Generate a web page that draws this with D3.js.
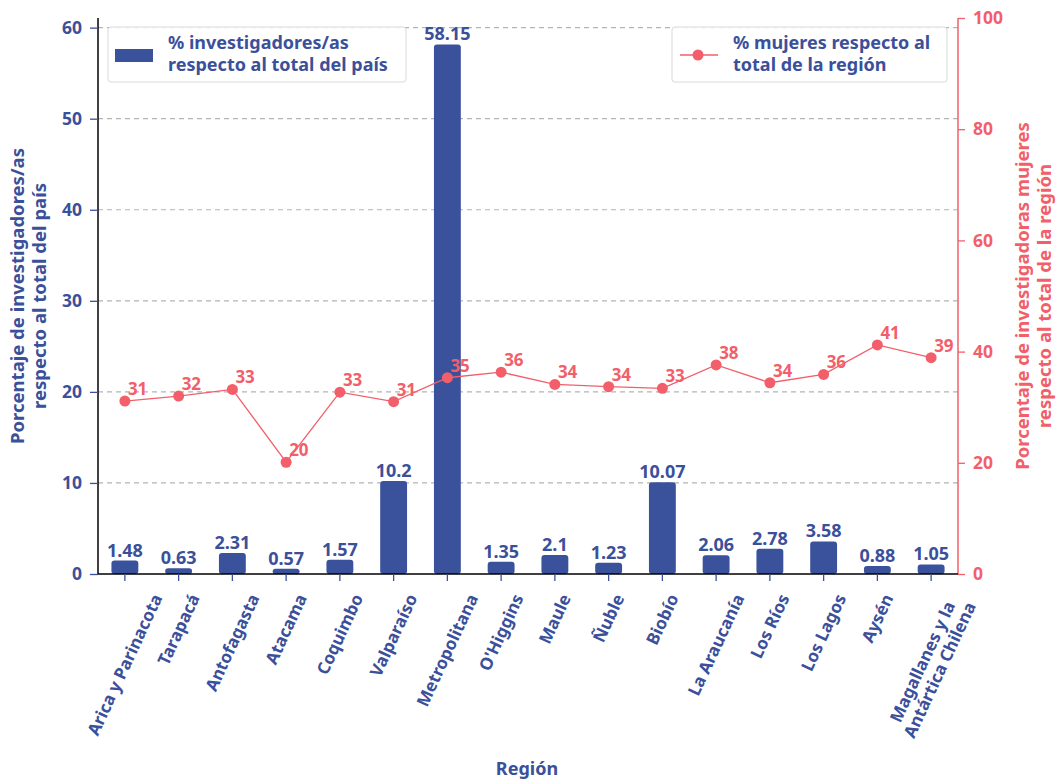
<!DOCTYPE html>
<html>
<head>
<meta charset="utf-8">
<script src="https://cdn.jsdelivr.net/npm/d3@7"></script>
<style>
  html, body { margin: 0; padding: 0; background: #fff; }
  svg text { font-family: "Noto Sans", "Open Sans", sans-serif; font-weight: bold; }
</style>
</head>
<body>
<svg id="chart" width="1057" height="782"></svg>
<script>
// Regions and their series
const regiones = ["Arica y Parinacota", "Tarapacá", "Antofagasta", "Atacama", "Coquimbo",
  "Valparaíso", "Metropolitana", "O'Higgins", "Maule", "Ñuble", "Biobío",
  "La Araucanía", "Los Ríos", "Los Lagos", "Aysén", "Magallanes y la\nAntártica Chilena"];
const pctInvestigadores = [1.48, 0.63, 2.31, 0.57, 1.57, 10.2, 58.15, 1.35, 2.1, 1.23, 10.07, 2.06, 2.78, 3.58, 0.88, 1.05];
const pctMujeres = [31.1, 32.0, 33.2, 20.1, 32.7, 31.0, 35.3, 36.3, 34.1, 33.7, 33.4, 37.6, 34.4, 35.9, 41.2, 38.9];
const ticksIzq = [0, 10, 20, 30, 40, 50, 60];
const ticksDer = [0, 20, 40, 60, 80, 100];

const AZUL = "#3a529b";
const TEXTO = "#3b509a";
const ROJO = "#f25f6a";

const svg = d3.select("#chart");
const m = { left: 98, right: 958, top: 18, bottom: 574 };

const x = d3.scaleBand().domain(regiones).range([m.left, m.right]).padding(0);
const yL = d3.scaleLinear().domain([0, 58.15 * 1.05]).range([m.bottom, m.top]);
const yR = d3.scaleLinear().domain([0, 100]).range([m.bottom, m.top]);

// dashed grid on the left axis ticks
svg.append("g").selectAll("line").data(ticksIzq.filter(d => d > 0)).join("line")
  .attr("x1", m.left).attr("x2", m.right)
  .attr("y1", d => yL(d)).attr("y2", d => yL(d))
  .attr("stroke", "#b4b4b4").attr("stroke-width", 1.2).attr("stroke-dasharray", "5,4");

// bars with rounded tops
const bw = x.bandwidth() * 0.5;
svg.append("g").selectAll("rect").data(pctInvestigadores).join("rect")
  .attr("x", (d, i) => x(regiones[i]) + x.bandwidth() / 2 - bw / 2)
  .attr("y", d => yL(d))
  .attr("width", bw)
  .attr("height", d => yL(0) - yL(d))
  .attr("rx", 3).attr("fill", AZUL);

svg.append("g").selectAll("text").data(pctInvestigadores).join("text")
  .attr("x", (d, i) => x(regiones[i]) + x.bandwidth() / 2)
  .attr("y", d => yL(d) - 4)
  .attr("text-anchor", "middle").attr("font-size", 18).attr("fill", TEXTO)
  .text(d => String(d));

// women share line
const cx = i => x(regiones[i]) + x.bandwidth() / 2;
svg.append("path").datum(pctMujeres)
  .attr("d", d3.line().x((d, i) => cx(i)).y(d => yR(d)))
  .attr("fill", "none").attr("stroke", ROJO).attr("stroke-width", 1.3);
svg.append("g").selectAll("circle").data(pctMujeres).join("circle")
  .attr("cx", (d, i) => cx(i)).attr("cy", d => yR(d)).attr("r", 5.5).attr("fill", ROJO);
svg.append("g").selectAll("text").data(pctMujeres).join("text")
  .attr("x", (d, i) => cx(i) + 3).attr("y", d => yR(d) - 6)
  .attr("font-size", 17).attr("fill", ROJO)
  .text(d => d3.format(".0f")(d));

// axes
const axL = svg.append("g").attr("transform", `translate(${m.left},0)`)
  .call(d3.axisLeft(yL).tickValues(ticksIzq).tickSize(8).tickPadding(8));
axL.select(".domain").attr("stroke", "#000").attr("stroke-width", 1.5).attr("d", `M0,${m.top}V${m.bottom}`);
axL.selectAll(".tick line").attr("stroke", TEXTO).attr("stroke-width", 1.3);
axL.selectAll(".tick text").attr("fill", TEXTO).attr("font-size", 17.5);

const axR = svg.append("g").attr("transform", `translate(${m.right},0)`)
  .call(d3.axisRight(yR).tickValues(ticksDer).tickSize(7).tickPadding(8));
axR.select(".domain").attr("stroke", ROJO).attr("stroke-width", 1.5).attr("d", `M0,${m.top}V${m.bottom}`);
axR.selectAll(".tick line").attr("stroke", ROJO).attr("stroke-width", 1.3);
axR.selectAll(".tick text").attr("fill", ROJO).attr("font-size", 17.5);

const axB = svg.append("g").attr("transform", `translate(0,${m.bottom})`)
  .call(d3.axisBottom(x).tickSize(7).tickFormat(""));
axB.select(".domain").attr("stroke", "#000").attr("stroke-width", 1.5).attr("d", `M${m.left},0H${m.right}`);
axB.selectAll(".tick line").attr("stroke", TEXTO).attr("stroke-width", 1.3);

// slanted category labels, bounding box centred under each tick
const ang = 65, rad = ang * Math.PI / 180, lh = 19;
const lab = svg.append("g").selectAll("g").data(regiones).join("g");
lab.each(function (name) {
  const g = d3.select(this);
  const lines = name.split("\n");
  const t = g.append("text").attr("text-anchor", "middle").attr("font-size", 17)
    .attr("font-weight", "600").attr("fill", TEXTO);
  lines.forEach((ln, k) => {
    t.append("tspan").attr("x", 0)
      .attr("y", (k - (lines.length - 1) / 2) * lh)
      .attr("dy", "0.35em").text(ln);
  });
  const w = t.node().getBBox().width;
  const h = lines.length * lh - 4;
  const H = w * Math.sin(rad) + h * Math.cos(rad);
  g.attr("transform", `translate(${x(name) + x.bandwidth() / 2},${m.bottom + 18 + H / 2}) rotate(${-ang})`);
});

// axis titles
svg.append("text").attr("x", 527).attr("y", 775).attr("text-anchor", "middle")
  .attr("font-size", 18).attr("fill", TEXTO).text("Región");

const tL = svg.append("text").attr("transform", "translate(29,296) rotate(-90)")
  .attr("text-anchor", "middle").attr("font-size", 18.5).attr("fill", TEXTO);
tL.append("tspan").attr("x", 0).attr("y", -5).text("Porcentaje de investigadores/as");
tL.append("tspan").attr("x", 0).attr("y", 17).text("respecto al total del país");

const tR = svg.append("text").attr("transform", "translate(1034,296) rotate(-90)")
  .attr("text-anchor", "middle").attr("font-size", 18.5).attr("fill", ROJO);
tR.append("tspan").attr("x", 0).attr("y", -5).text("Porcentaje de investigadoras mujeres");
tR.append("tspan").attr("x", 0).attr("y", 17).text("respecto al total de la región");

// legends
const leg1 = svg.append("g");
leg1.append("rect").attr("x", 108).attr("y", 27).attr("width", 298).attr("height", 55)
  .attr("rx", 3).attr("fill", "#fff").attr("fill-opacity", 0.85).attr("stroke", "#d9d9d9");
leg1.append("rect").attr("x", 115).attr("y", 49).attr("width", 38).attr("height", 13).attr("fill", AZUL);
const l1 = leg1.append("text").attr("font-size", 18).attr("fill", TEXTO);
l1.append("tspan").attr("x", 168).attr("y", 49).text("% investigadores/as");
l1.append("tspan").attr("x", 168).attr("y", 71).text("respecto al total del país");

const leg2 = svg.append("g");
leg2.append("rect").attr("x", 672).attr("y", 27).attr("width", 275).attr("height", 55)
  .attr("rx", 3).attr("fill", "#fff").attr("fill-opacity", 0.85).attr("stroke", "#d9d9d9");
leg2.append("line").attr("x1", 680).attr("x2", 718).attr("y1", 55).attr("y2", 55)
  .attr("stroke", ROJO).attr("stroke-width", 1.3);
leg2.append("circle").attr("cx", 698).attr("cy", 55).attr("r", 5.5).attr("fill", ROJO);
const l2 = leg2.append("text").attr("font-size", 18).attr("fill", TEXTO);
l2.append("tspan").attr("x", 733).attr("y", 49).text("% mujeres respecto al");
l2.append("tspan").attr("x", 733).attr("y", 71).text("total de la región");
</script>
</body>
</html>
